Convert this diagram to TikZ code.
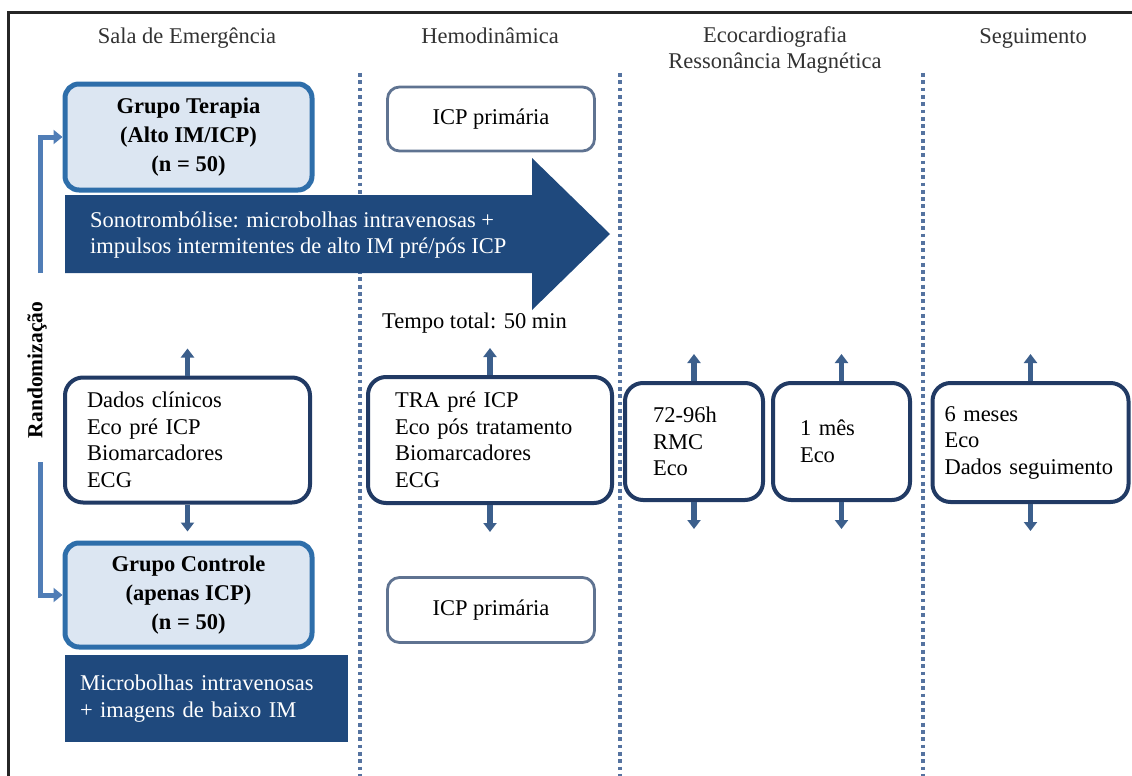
\documentclass[tikz,border=0pt]{standalone}
\usepackage{fontspec}
\setmainfont{Liberation Serif}
\usepackage{tikz}
\usetikzlibrary{arrows.meta}

\definecolor{navy}{RGB}{31,73,125}
\definecolor{boxline}{RGB}{33,58,100}
\definecolor{grpline}{RGB}{46,110,170}
\definecolor{grpfill}{RGB}{220,230,242}
\definecolor{icpline}{RGB}{95,115,145}
\definecolor{tickcol}{RGB}{60,95,140}
\definecolor{randcol}{RGB}{80,125,182}
\definecolor{dotcol}{RGB}{85,115,160}
\definecolor{headcol}{RGB}{50,50,50}

\begin{document}
\begin{tikzpicture}[x=1pt,y=1pt,
    every node/.style={font=\fontsize{22.5}{26.5}\selectfont},
    header/.style={text=headcol, align=center, inner sep=0pt},
    grupo/.style={draw=grpline, fill=grpfill, line width=5pt, rounded corners=14pt,
        align=center, font=\bfseries\fontsize{22.5}{29}\selectfont, inner sep=0pt},
    icpbox/.style={draw=icpline, line width=2.8pt, rounded corners=12pt,
        minimum width=207pt, minimum height=64pt, inner sep=0pt},
    databox/.style={draw=boxline, fill=white, line width=4pt, rounded corners=18pt,
        align=left, inner ysep=0pt},
    darkbox/.style={fill=navy, text=white, align=left, inner ysep=0pt},
    tick/.style={draw=tickcol, line width=5.5pt, -{Triangle[width=13pt,length=9pt]}},
    randarr/.style={draw=randcol, line width=5pt, -{Triangle[width=14pt,length=9pt]}},
    divider/.style={draw=dotcol, line width=4.5pt, dash pattern=on 3.8pt off 3.5pt}]

    \useasboundingbox (0,0) rectangle (1132,-776);
    \draw[line width=3pt, black!85] (8,-776) -- (8,-13) -- (1132,-13);

    \node[header, anchor=base] (h1) at (187,-44) {Sala de Emergência};
    \node[header, anchor=base] (h2) at (490,-44) {Hemodinâmica};
    \node[header, anchor=north] (h3) at (775,-26) {Ecocardiografia\\Ressonância Magnética};
    \node[header, anchor=base] (h4) at (1033,-44) {Seguimento};

    \foreach \x in {360,620,923}
        \draw[divider] (\x,-73) -- (\x,-776);

    \node[grupo, minimum width=247pt, minimum height=106pt] (gt) at (188.5,-137) {Grupo Terapia\\(Alto IM/ICP)\\(n = 50)};
    \node[icpbox] (icpa) at (491,-119) {ICP primária};

    \fill[navy] (65,-195) -- (532,-195) -- (532,-158) -- (610,-234) -- (532,-310) -- (532,-273) -- (65,-273) -- cycle;
    \node[text=white, align=left, anchor=west, inner sep=0pt] (sono) at (90,-235) {Sonotrombólise: microbolhas intravenosas +\\impulsos intermitentes de alto IM pré/pós ICP};
    \node[anchor=west, inner sep=0pt] (tempo) at (382,-323) {Tempo total: 50 min};

    \node[rotate=90, font=\bfseries\fontsize{21.5}{26}\selectfont, inner sep=0pt] (rand) at (37,-370) {Randomização};

    \node[databox, text width=201pt, inner xsep=22pt, minimum height=125pt] (dc) at (187.5,-440) {Dados clínicos\\Eco pré ICP\\Biomarcadores\\ECG};
    \node[databox, text width=190pt, inner xsep=27pt, minimum height=126pt] (tra) at (490,-440) {TRA pré ICP\\Eco pós tratamento\\Biomarcadores\\ECG};
    \node[databox, text width=82pt, inner xsep=28pt, minimum height=117pt] (eca) at (694,-441.5) {72-96h\\RMC\\Eco};
    \node[databox, text width=83pt, inner xsep=27pt, minimum height=117pt] (ecb) at (841.5,-441.5) {1 mês\\Eco};
    \node[databox, text width=172pt, inner xsep=12pt, minimum height=119pt] (seg) at (1030.5,-442.5) {6 meses\\Eco\\Dados seguimento};

    \node[grupo, minimum width=247pt, minimum height=104pt] (gc) at (188.5,-595) {Grupo Controle\\(apenas ICP)\\(n = 50)};
    \node[icpbox, minimum height=65pt] (icpb) at (491,-610) {ICP primária};
    \node[darkbox, text width=253pt, inner xsep=15pt, minimum height=87pt] (micro) at (206.5,-698.5) {Microbolhas intravenosas\\+ imagens de baixo IM};

    \coordinate (rtop) at (40,-273);
    \coordinate (rbot) at (40,-462);
    \draw[randarr] (rtop) |- (gt.west);
    \draw[randarr] (rbot) |- (gc.west);

    \foreach \b in {dc,tra,eca,ecb,seg} {
        \coordinate (\b-up) at ([yshift=27pt]\b.north);
        \coordinate (\b-dn) at ([yshift=-27pt]\b.south);
        \draw[tick] (\b.north) -- (\b-up);
        \draw[tick] (\b.south) -- (\b-dn);
    }
\end{tikzpicture}
\end{document}
